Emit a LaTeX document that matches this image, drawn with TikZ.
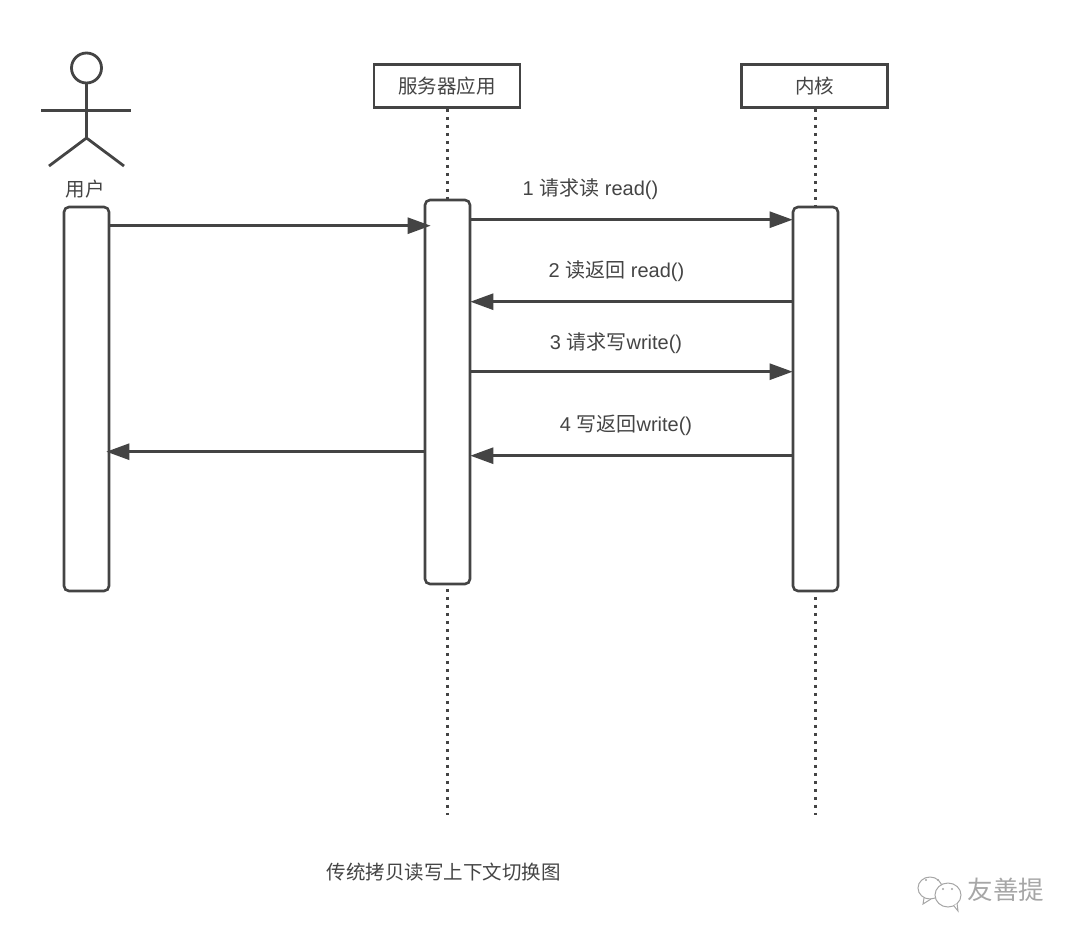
\documentclass[tikz,border=0pt]{standalone}
\usepackage{fontspec}
\setmainfont{Liberation Sans}
\newfontfamily\cjk{Noto Sans CJK SC}
\usetikzlibrary{arrows.meta}
\definecolor{inkgray}{HTML}{444444}
\definecolor{logogray}{HTML}{A6A6A6}
\begin{document}
\begin{tikzpicture}[
    x=1pt, y=1pt,
    every node/.style={text=inkgray, font=\fontsize{19.5}{21}\selectfont\cjk},
    headbox/.style={draw=inkgray, line width=2.6pt, fill=white, minimum width=146pt, minimum height=43pt, inner sep=0pt},
    barbox/.style={draw=inkgray, line width=2.6pt, fill=white, rounded corners=5pt, minimum width=45pt, inner sep=0pt},
    lifeline/.style={draw=inkgray, line width=2.8pt, dash pattern=on 3pt off 5pt},
    msg/.style={draw=inkgray, line width=2.6pt, -{Triangle[length=23pt,width=16pt]}, shorten >=-1pt},
    limb/.style={draw=inkgray, line width=2.8pt},
    msglabel/.style={font=\fontsize{20}{22}\selectfont}
  ]
  \useasboundingbox (0,0) rectangle (1080,-938);
  \node[headbox] (apphead) at (447,-86) {服务器应用};
  \node[headbox] (kernelhead) at (814.5,-86) {内核};
  \coordinate (append) at (447.5,-815);
  \coordinate (kernelend) at (815.5,-815);
  \draw[lifeline] (apphead.south -| append) -- (append);
  \draw[lifeline] (kernelhead.south -| kernelend) -- (kernelend);
  % activation bars
  \node[barbox, minimum height=384pt] (userbar) at (86.5,-399) {};
  \node[barbox, minimum height=384pt] (appbar) at (447.5,-392) {};
  \node[barbox, minimum height=384pt] (kernelbar) at (815.5,-399) {};
  % actor
  \node[circle, draw=inkgray, line width=2.8pt, minimum size=30pt, inner sep=0pt] (head) at (86.5,-68) {};
  \coordinate (hip) at (86.5,-138);
  \coordinate (handl) at (41,-110.5);
  \coordinate (handr) at (131,-110.5);
  \coordinate (footl) at (49,-166);
  \coordinate (footr) at (124,-166);
  \draw[limb] (head) -- (hip);
  \draw[limb] (handl) -- (handr);
  \draw[limb] (footl) -- (hip) -- (footr);
  \node (user) at (85,-189) {用户};
  % messages
  \draw[msg] ([yshift=-20pt]userbar.north east) -- ([xshift=6pt,yshift=-27pt]appbar.north west);
  \draw[msg] ([yshift=-21pt]appbar.north east) -- ([yshift=-14pt]kernelbar.north west);
  \draw[msg] ([yshift=-96pt]kernelbar.north west) -- ([yshift=-103pt]appbar.north east);
  \draw[msg] ([yshift=-173pt]appbar.north east) -- ([yshift=-166pt]kernelbar.north west);
  \draw[msg] ([yshift=-250pt]kernelbar.north west) -- ([yshift=-257pt]appbar.north east);
  \draw[msg] ([yshift=-253pt]appbar.north west) -- ([xshift=-3pt,yshift=-246pt]userbar.north east);
  \node[msglabel] (lab1) at (590.5,-189) {1 {\cjk 请求读} read()};
  \node[msglabel] (lab2) at (616.5,-271) {2 {\cjk 读返回} read()};
  \node[msglabel] (lab3) at (616,-343) {3 {\cjk 请求写}write()};
  \node[msglabel] (lab4) at (626,-425) {4 {\cjk 写返回}write()};
  \node (caption) at (443.5,-872) {传统拷贝读写上下文切换图};
  % logo
  \begin{scope}[draw=logogray, line width=1pt]
    \draw (930,-888) circle[x radius=12, y radius=11];
    \draw[fill=white] (948,-895) circle[x radius=13, y radius=12];
    \draw (924,-898) -- (923,-904) -- (931,-899);
    \draw[fill=white] (954,-906) -- (958,-911) -- (957,-903);
    \fill[logogray] (926,-880) circle (1.2) (938,-880) circle (1.2) (943,-889) circle (1.2) (952,-889) circle (1.2);
  \end{scope}
  \node[text=logogray, font=\fontsize{25.5}{27}\selectfont\cjk] (logo) at (1006,-890) {友善提};
\end{tikzpicture}
\end{document}
